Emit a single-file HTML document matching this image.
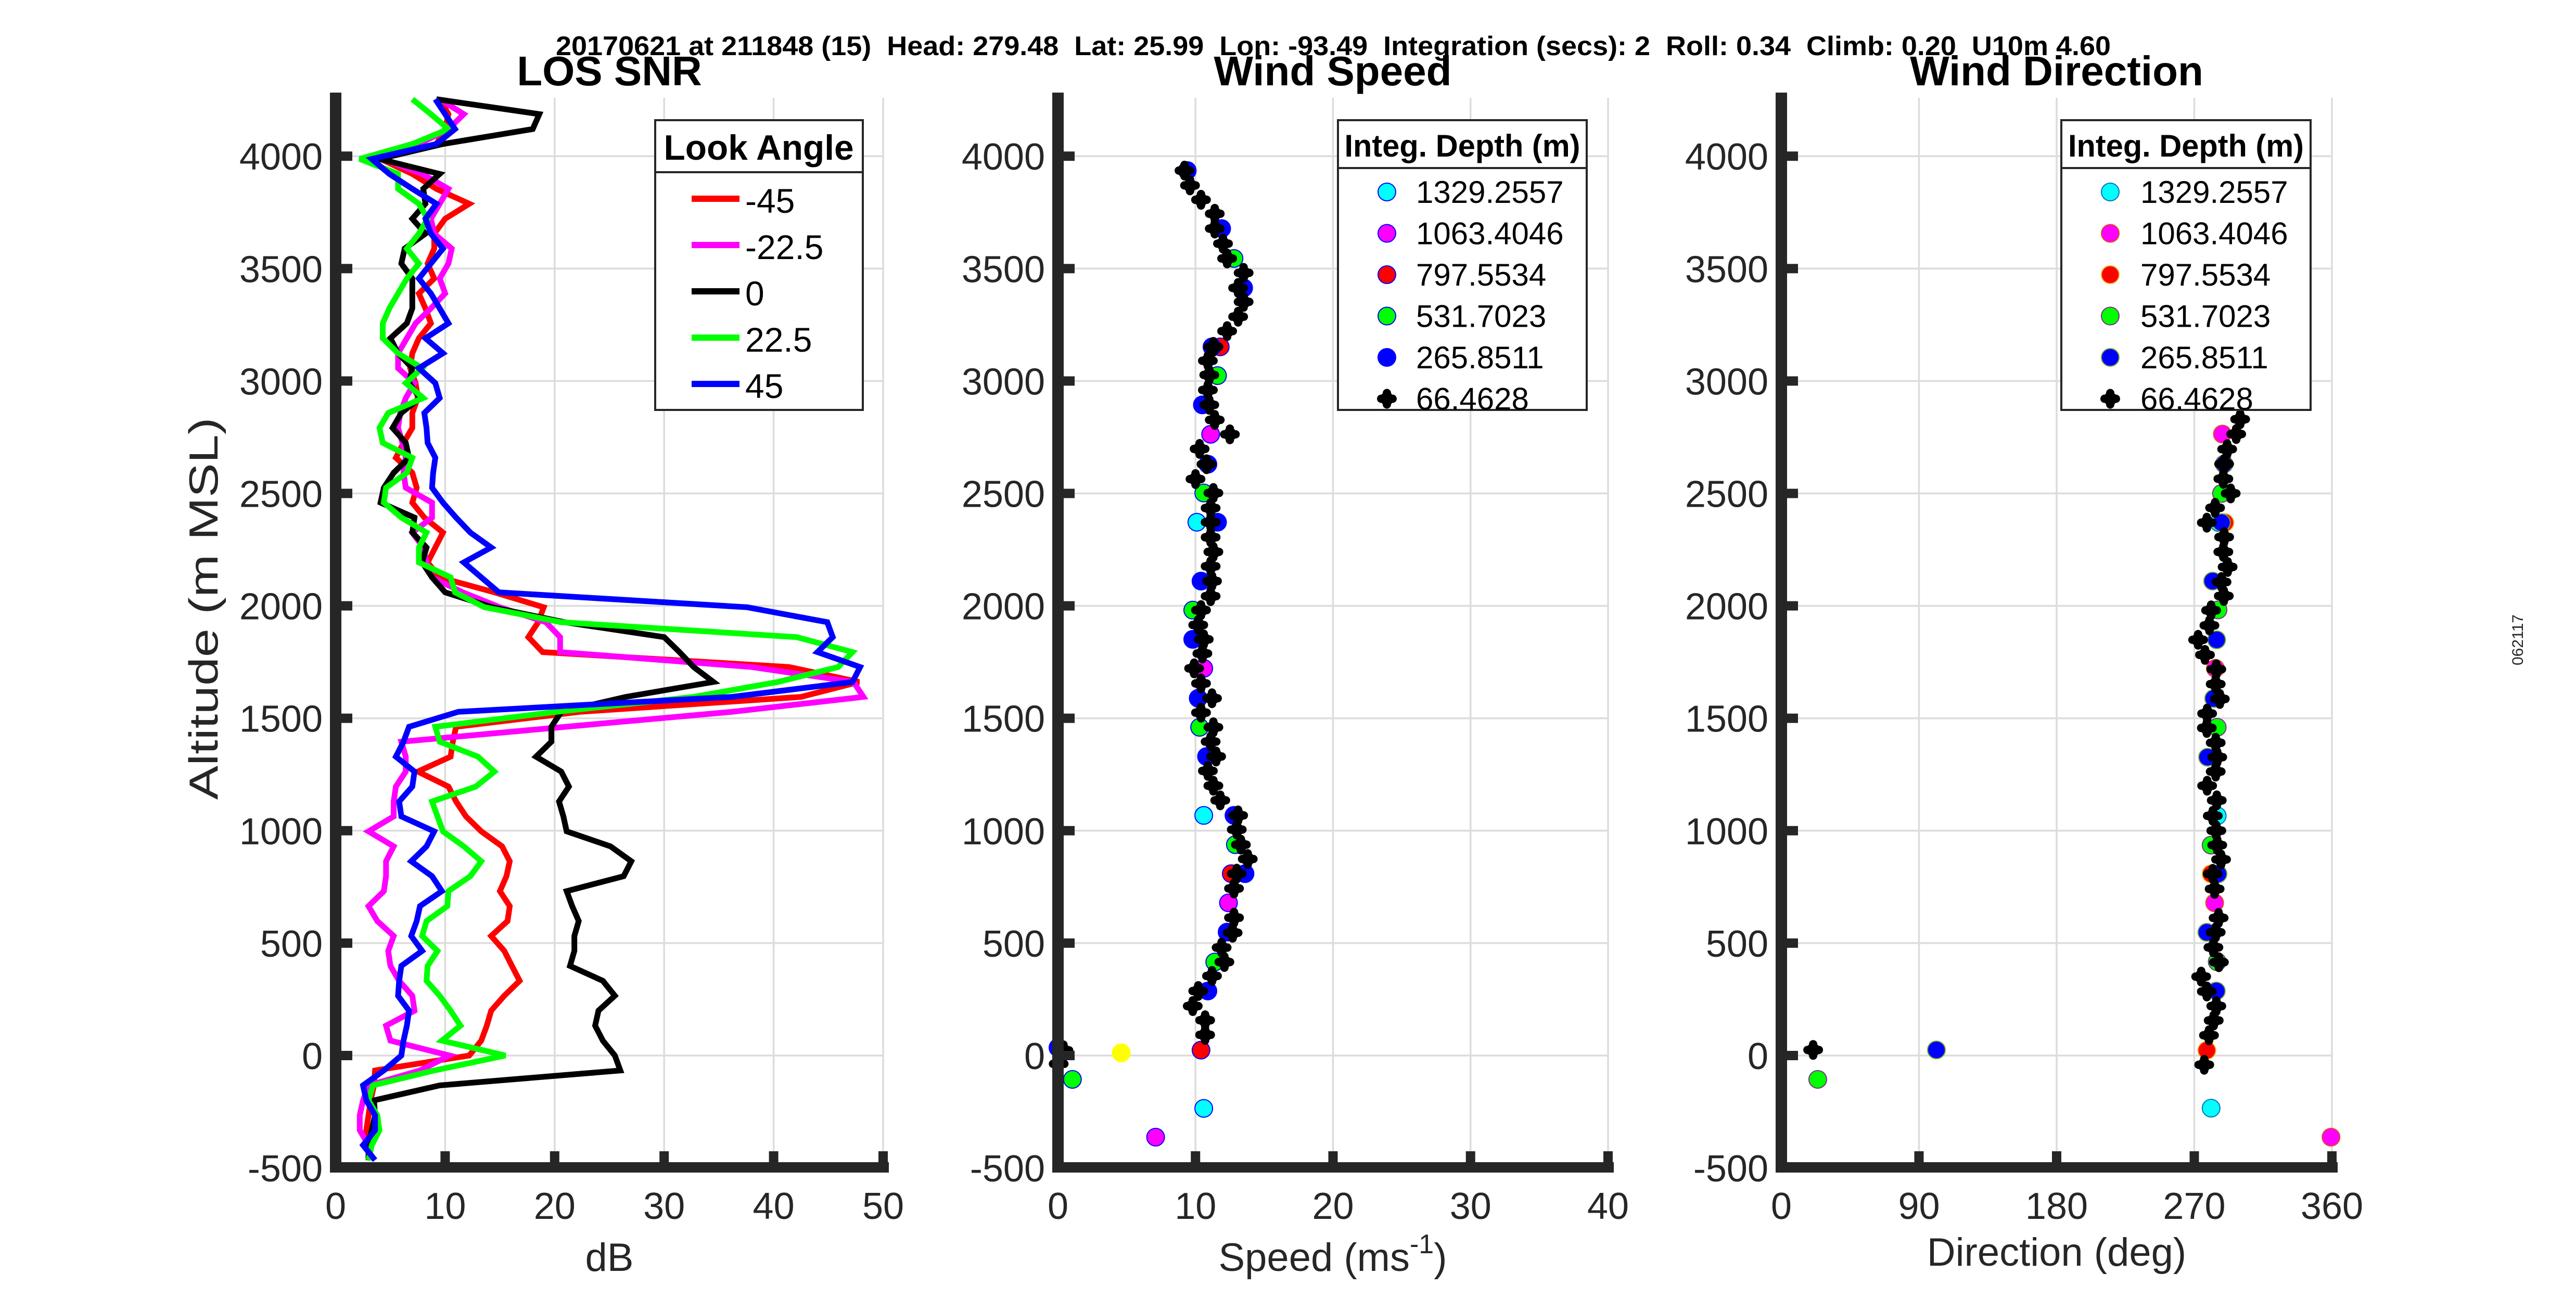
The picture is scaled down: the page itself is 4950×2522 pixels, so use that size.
<!DOCTYPE html>
<html><head><meta charset="utf-8">
<style>
html,body{margin:0;padding:0;background:#fff;}
svg{display:block;}
text{font-family:"Liberation Sans",Arial,sans-serif;}
</style></head>
<body>
<svg id="fig" width="4950" height="2522" viewBox="0 0 4950 2522" xmlns="http://www.w3.org/2000/svg">
<rect x="0" y="0" width="4950" height="2522" fill="#fff"/>
<text x="2562" y="106" text-anchor="middle" font-size="52" font-weight="bold" textLength="2988" lengthAdjust="spacingAndGlyphs" xml:space="preserve">20170621 at 211848 (15)  Head: 279.48  Lat: 25.99  Lon: -93.49  Integration (secs): 2  Roll: 0.34  Climb: 0.20  U10m 4.60</text>
<text x="1171" y="164" text-anchor="middle" font-size="80" font-weight="bold">LOS SNR</text>
<text x="2561" y="164" text-anchor="middle" font-size="80" font-weight="bold">Wind Speed</text>
<text x="3952" y="164" text-anchor="middle" font-size="80" font-weight="bold">Wind Direction</text>
<text transform="translate(418,1170) rotate(-90)" text-anchor="middle" font-size="78" fill="#262626" textLength="735" lengthAdjust="spacingAndGlyphs">Altitude (m MSL)</text>
<text x="1171" y="2443" text-anchor="middle" font-size="76" fill="#262626">dB</text>
<text x="2561" y="2443" text-anchor="middle" font-size="76" fill="#262626">Speed (ms<tspan dy="-34" font-size="52">-1</tspan><tspan dy="34">)</tspan></text>
<text x="3952" y="2433" text-anchor="middle" font-size="76" fill="#262626">Direction (deg)</text>
<text transform="translate(4848,1230) rotate(-90)" text-anchor="middle" font-size="30" fill="#262626">062117</text>
<g id="layer"></g>
</svg>
<script>
// ---- LOS SNR data (altitude levels k*66.46 m, k = -7..64) ----
const snrLevelStart = -7;
const snrLevelStep = 66.46;
const snrRed = [3.2,3,2.8,3,3.2,3.5,3.6,12.2,13.3,13.8,14.2,15.4,16.8,16.1,15.4,14.2,15.7,15.9,15,15.6,15.9,15.2,13.3,11.9,11,10.3,7.5,10.5,10.7,11,22.3,42.5,47.8,41.4,18.9,17.6,18.5,19,14.5,9.5,8.4,9.1,9.8,8.1,7,7.4,7,5.5,6.2,7,7,7.5,7.3,6.8,7,7.6,8.7,8.2,7.6,9,8.4,9,9,10,12.2,9.2,7,4.1,9.2,10,10.3,9.5];
const snrMagenta = [3.3,3,2.2,2.2,2.5,3,7.7,10.4,5,4.6,7.2,7,5.8,5,4.8,5.3,3.8,3,4.4,4.6,4.6,5.3,3,5.3,5.3,5.5,6.4,6.4,6,21,36.2,48.2,47.3,38,20.5,20.5,19.2,15,11.6,8.8,8.3,8,7,8.8,8.8,6.4,6.2,6.4,6.1,5.7,5.9,6.4,7.2,5.7,5.7,6.5,7.3,8.7,10,9.5,10.3,10.6,9,8.7,9.5,10.3,7.9,4.3,7.6,10.3,11.7,9.5];
const snrBlack = [3,3,3.3,3.6,3.5,9.5,26,25.5,24.4,23.7,24,25.5,24.4,21.4,21.8,21.8,22.2,21.6,21.1,26.3,27,25.1,21.1,20.8,20.4,21.3,20.6,18.3,19.7,19.7,20.6,26.5,34.5,32.7,31.4,30,20.9,14.3,10,8.8,7.9,8.3,7,7.2,4.1,4.4,5.3,6.7,6.4,5.2,6,7.7,6.7,7,5.7,5,6.5,7,7,7,6,6.3,8.2,7,8.2,8,9.5,4,9.8,18,18.6,9.2];
const snrGreen = [3,3.3,4,3.8,3,3.4,9,15.5,9.7,11.4,10.5,9.5,8.3,8.4,9.3,7.9,8.3,10.2,10.3,12.3,13.3,11.7,9.8,9.3,8.8,12.8,14.5,13,9.5,9.1,20.2,32.7,40.4,45.9,47.2,42.1,20.6,13.6,10.9,10.5,7.6,7.6,8.3,6,4.4,4.6,6.5,7,4.3,4,4.8,8,6.4,7.9,5.7,4.3,4.3,4.9,5.7,6.5,7.6,6.5,7.6,8.4,7.6,5.7,5.7,2.2,7,10.3,8.7,7];
const snrBlue = [3.6,2.5,3.6,3.6,2.8,2.5,4.4,6,6.2,6.5,6.7,5.7,5.8,6,7.9,6.9,7.4,7.7,9.7,8.8,6.9,8.3,9,6,5.8,7,7.2,5.5,6.2,6.7,11.2,36.2,47.2,47.9,44,45.4,44.9,37.6,14.9,13.3,11.7,14.2,12.3,11,9.8,8.8,8.9,9.1,8.4,8.3,8.1,9.5,9.1,7.6,9.8,8.2,10.3,9.5,8.7,7.6,8.7,9.8,8.7,8.2,9.2,7,4.9,3.3,9.2,10.9,10,9.1];
const snrLabels = ["-45","-22.5","0","22.5","45"];
const snrColors = ["#ff0000","#ff00ff","#000000","#00ff00","#0000ff"];

// ---- Wind speed data ----
const spdBlackAlt = [3936,3870,3806,3744,3678,3611,3545,3481,3414,3352,3286,3222,3152,3090,3027,2960,2894,2827,2763,2698,2630,2564,2502,2435,2372,2305,2240,2176,2110,2043,1981,1915,1851,1788,1722,1655,1589,1525,1460,1396,1330,1266,1200,1135,1068,1005,938,874,809,743,613,546,480,416,354,287,220,157,92,23,-37];
const spdBlackVal = [9.2,9.6,10.4,11.4,11.4,12.0,12.3,13.5,13.1,13.5,13.1,12.3,11.3,10.9,11,10.9,11,11.4,12.5,10.3,10.8,10,11.3,11.1,11.1,11.1,11.3,11.1,11.2,11.1,10.4,10.2,10.6,10.5,9.9,10.4,11.2,10.4,11.3,11.1,11.5,10.9,11.3,11.8,13.1,13,13.3,13.8,13,12.8,12.8,12.7,11.9,12.1,11.2,10.2,9.8,10.7,10.7,0.4,0.05];
const spdCyanAlt = [2372,1068,-235];
const spdCyanVal = [10.1,10.6,10.6];
const spdMagentaAlt = [2763,1722,679,-363];
const spdMagentaVal = [11.1,10.6,12.4,7.1];
const spdRedAlt = [3152,809,24];
const spdRedVal = [11.8,12.6,10.4];
const spdGreenAlt = [3545,3024,2502,1981,1460,938,416,-106];
const spdGreenVal = [12.8,11.6,10.6,9.8,10.3,12.9,11.4,1.05];
const spdBlueAlt = [3936,3678,3414,3152,2894,2630,2372,2110,1851,1589,1330,1068,809,549,287,35];
const spdBlueVal = [9.4,11.9,13.5,11.2,10.5,10.9,11.6,10.4,9.8,10.2,10.8,12.8,13.6,12.3,10.9,0];
const spdYellowAlt = [12];
const spdYellowVal = [4.6];

// ---- Wind direction data ----
const dirBlackAlt = [2830,2764,2697,2631,2565,2500,2436,2370,2306,2240,2173,2106,2044,1980,1913,1849,1782,1718,1652,1586,1521,1457,1391,1327,1263,1200,1135,1066,1000,936,872,808,741,612,548,481,415,351,285,220,156,90,25,-41];
const dirBlackVal = [300,297.4,291.5,289.5,289,293.8,283.6,278.2,289.5,289,291.8,287.8,289.3,281,279.9,272.5,277,284.4,284,286.7,278.4,278.2,284,285,284,278.4,284.7,282.1,284.4,285,287.5,282.1,283.3,285.9,284,282.5,286.1,274.5,278.2,284.4,282.7,279.6,20.8,276.5];
const dirCyanAlt = [2370,1066,-234];
const dirCyanVal = [286,285,281];
const dirMagentaAlt = [2764,1722,679,-363];
const dirMagentaVal = [288.4,283.8,283.3,359.4];
const dirRedAlt = [2370,808,23];
const dirRedVal = [290,281,278.2];
const dirGreenAlt = [2500,1982,1460,936,417,-106];
const dirGreenVal = [287.8,285.5,285,281,285,23.8];
const dirBlueAlt = [2631,2370,2110,1849,1588,1327,808,548,287,25];
const dirBlueVal = [289.5,287.8,282,284.6,282.7,278.7,285.5,278.2,284.4,101.4];

const depthLabels = ["1329.2557","1063.4046","797.5534","531.7023","265.8511","66.4628"];
const yTicks = [-500,0,500,1000,1500,2000,2500,3000,3500,4000];
const snrTicks = [0,10,20,30,40,50];
const spdTicks = [0,10,20,30,40];
const dirTicks = [0,90,180,270,360];

const NS = "http://www.w3.org/2000/svg";
const layer = document.getElementById("layer");
function el(tag, attrs, parent){
  const e = document.createElementNS(NS, tag);
  for (const k in attrs) e.setAttribute(k, attrs[k]);
  (parent||layer).appendChild(e);
  return e;
}
const Y_TOP = 178, Y_BOT = 2244;
function yScale(a){ return 2029 - a*0.4322; }
function makeX(x0,x1,min,max){ return v => x0 + (v-min)/(max-min)*(x1-x0); }

const panels = [
  {name:"snr", x0:645, x1:1697, min:0, max:50, ticks:snrTicks},
  {name:"speed", x0:2033, x1:3090, min:0, max:40, ticks:spdTicks},
  {name:"direction", x0:3423, x1:4481, min:0, max:360, ticks:dirTicks}
];
panels.forEach(p => { p.x = makeX(p.x0,p.x1,p.min,p.max); });

function drawAxes(p){
  const g = el("g",{});
  
  
  p.ticks.forEach(t => {
    if (t === p.min) return;
    const gl = el("line",{x1:p.x(t),x2:p.x(t),y1:188,y2:Y_BOT-10,stroke:"#dcdcdc","stroke-width":3.5},g);
    
    
  });
  yTicks.forEach(t => {
    if (t === -500) return;
    const gl = el("line",{x1:p.x0+10,x2:p.x1,y1:yScale(t),y2:yScale(t),stroke:"#dcdcdc","stroke-width":3.5},g);
    
    
  });
  return g;
}
function drawAxisLines(p){
  const g = el("g",{});
  
  
  const yl = el("rect",{x:p.x0-11,y:Y_TOP,width:22,height:Y_BOT+10-Y_TOP,fill:"#262626"},g);
  
  
  const xl = el("rect",{x:p.x0-11,y:Y_BOT-10,width:p.x1-p.x0+22,height:20,fill:"#262626"},g);
  
  
  p.ticks.forEach(t => {
    if (t !== p.min) {
      const tk = el("rect",{x:p.x(t)-9,y:Y_BOT-31,width:18,height:22,fill:"#262626"},g);
      
      
    }
    const lb = el("text",{x:p.x(t),y:2343,"text-anchor":"middle","font-size":72,fill:"#262626"},g);
    lb.textContent = String(t);
    
    
  });
  yTicks.forEach(t => {
    if (t !== -500) {
      const tk = el("rect",{x:p.x0+10,y:yScale(t)-9,width:22,height:18,fill:"#262626"},g);
      
      
    }
    const lb = el("text",{x:p.x0-25,y:yScale(t)+26,"text-anchor":"end","font-size":72,fill:"#262626"},g);
    lb.textContent = String(t);
    
    
  });
}
panels.forEach(drawAxes);

const P1 = panels[0];
const snrSeries = [snrRed, snrMagenta, snrBlack, snrGreen, snrBlue];
snrSeries.forEach((vals, si) => {
  const pts = vals.map((v,i) => P1.x(v).toFixed(1) + "," + yScale((snrLevelStart+i)*snrLevelStep).toFixed(1)).join(" ");
  const pl = el("polyline",{points:pts,fill:"none",stroke:snrColors[si],"stroke-width":11,"stroke-linejoin":"miter","stroke-miterlimit":3});
  
  
});

function circle(cx,cy,fill,stroke,parent){
  return el("ellipse",{cx:cx,cy:cy,rx:17,ry:17,fill:fill,stroke:stroke,"stroke-width":2},parent);
}
function cross(cx,cy,parent){
  const g = el("g",{fill:"#000"},parent);
  el("rect",{x:cx-19,y:cy-8,width:38,height:16,rx:8},g);
  el("rect",{x:cx-8,y:cy-19,width:16,height:38,rx:8},g);
  el("circle",{cx:cx,cy:cy,r:13},g);
  return g;
}
function scatter(p, alts, vals, fill, stroke, name){
  alts.forEach((a,i) => {
    const c = circle(p.x(vals[i]), yScale(a), fill, stroke);
    
    
  });
}
function scatterCross(p, alts, vals, name){
  alts.forEach((a,i) => {
    const c = cross(p.x(vals[i]), yScale(a));
    
    
  });
}
const P2 = panels[1], P3 = panels[2];
scatter(P2, spdCyanAlt, spdCyanVal, "#00ffff", "#0000ff", "speed-point-1329m");
scatter(P2, spdMagentaAlt, spdMagentaVal, "#ff00ff", "#0000ff", "speed-point-1063m");
scatter(P2, spdRedAlt, spdRedVal, "#ff0000", "#0000ff", "speed-point-798m");
scatter(P2, spdGreenAlt, spdGreenVal, "#00ff00", "#0000ff", "speed-point-532m");
scatter(P2, spdBlueAlt, spdBlueVal, "#0000ff", "#0000ff", "speed-point-266m");
scatter(P2, spdYellowAlt, spdYellowVal, "#ffff00", "#ffff00", "speed-point-surface");
scatterCross(P2, spdBlackAlt, spdBlackVal, "speed-point-66m");

scatter(P3, dirCyanAlt, dirCyanVal, "#00ffff", "#0072bd", "direction-point-1329m");
scatter(P3, dirMagentaAlt, dirMagentaVal, "#ff00ff", "#d95319", "direction-point-1063m");
scatter(P3, dirRedAlt, dirRedVal, "#ff0000", "#edb120", "direction-point-798m");
scatter(P3, dirGreenAlt, dirGreenVal, "#00ff00", "#7e2f8e", "direction-point-532m");
scatter(P3, dirBlueAlt, dirBlueVal, "#0000ff", "#77ac30", "direction-point-266m");
scatterCross(P3, dirBlackAlt, dirBlackVal, "direction-point-66m");

panels.forEach(drawAxisLines);

function legendBox(x,y,w,h,divY,name){
  const g = el("g",{});
  
  
  el("rect",{x:x,y:y,width:w,height:h,fill:"#fff",stroke:"#262626","stroke-width":4},g);
  el("line",{x1:x,x2:x+w,y1:divY,y2:divY,stroke:"#262626","stroke-width":4},g);
  return g;
}
const lg1 = legendBox(1259,231,399,557,331,"snr-legend");
const lt1 = el("text",{x:1458,y:307,"text-anchor":"middle","font-size":68,"font-weight":"bold",textLength:365,lengthAdjust:"spacingAndGlyphs"},lg1);
lt1.textContent = "Look Angle";


snrLabels.forEach((lab,i) => {
  const cy = 382 + i*89;
  const ent = el("g",{},lg1);
  
  
  el("line",{x1:1329,x2:1421,y1:cy,y2:cy,stroke:snrColors[i],"stroke-width":12},ent);
  const t = el("text",{x:1432,y:cy+27,"font-size":66},ent);
  t.textContent = lab;
});
function depthLegend(x, w, mx, tx, name, strokes){
  const g = legendBox(x,231,w,557,323,name);
  const t = el("text",{x:x+w/2,y:301,"text-anchor":"middle","font-size":60,"font-weight":"bold",textLength:453,lengthAdjust:"spacingAndGlyphs"},g);
  t.textContent = "Integ. Depth (m)";
  
  
  const fills = ["#00ffff","#ff00ff","#ff0000","#00ff00","#0000ff"];
  depthLabels.forEach((lab,i) => {
    const cy = 369 + i*79.5;
    const ent = el("g",{},g);
    
    
    if (i < 5) circle(mx, cy, fills[i], strokes[i], ent);
    else cross(mx, cy, ent);
    const tt = el("text",{x:tx,y:cy+21,"font-size":60},ent);
    tt.textContent = lab;
  });
}
depthLegend(2571, 478, 2665, 2721, "speed-legend", ["#0000ff","#0000ff","#0000ff","#0000ff","#0000ff"]);
depthLegend(3961, 479, 4055, 4113, "direction-legend", ["#0072bd","#d95319","#edb120","#7e2f8e","#77ac30"]);
</script>
</body></html>
